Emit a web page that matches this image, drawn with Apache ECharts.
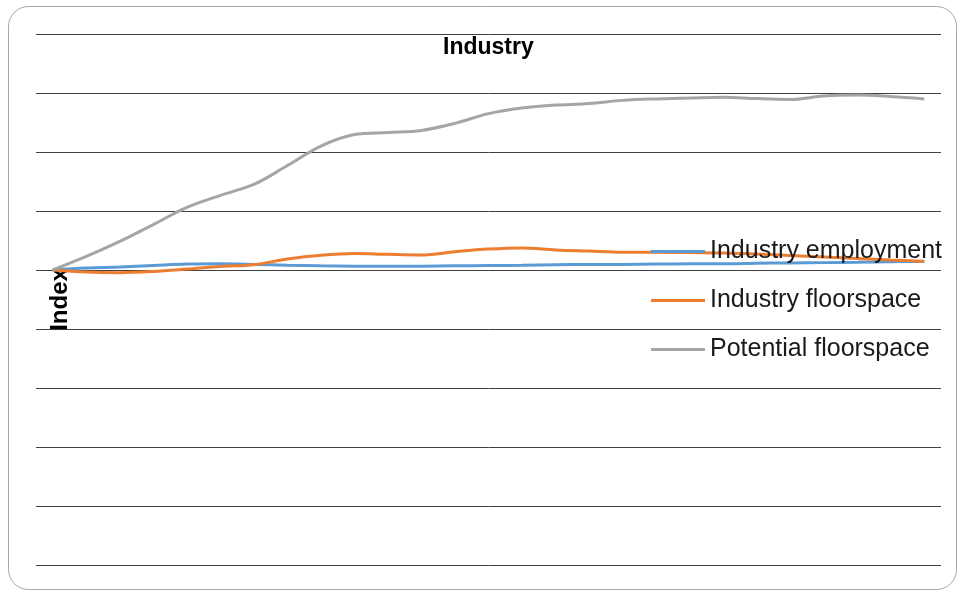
<!DOCTYPE html>
<html>
<head>
<meta charset="utf-8">
<script src="https://cdn.jsdelivr.net/npm/echarts@6/dist/echarts.min.js"></script>
<style>
html,body{margin:0;padding:0;background:#fff;}
#chart{width:960px;height:592px;}
</style>
</head>
<body>
<div id="chart"></div>
<script>
var periods = ['1','2','3','4','5','6','7','8','9','10','11','12','13','14','15','16','17','18','19','20','21','22','23','24','25','26','27'];
var industryEmployment = [100, 100.7, 101, 101.5, 102, 102.1, 101.9, 101.6, 101.4, 101.3, 101.3, 101.3, 101.4, 101.5, 101.6, 101.8, 101.9, 101.9, 102, 102.1, 102.1, 102.3, 102.4, 102.5, 102.6, 102.8, 102.9];
var industryFloorspace = [100, 99.3, 99.1, 99.5, 100.3, 101.2, 101.8, 103.7, 105, 105.6, 105.3, 105.1, 106.2, 107.1, 107.5, 106.8, 106.4, 106, 106, 105.9, 105.8, 105.4, 104.9, 104.4, 103.9, 103.4, 103];
var potentialFloorspace = [100, 104.6, 109.7, 115.4, 121.2, 125.3, 129, 135.4, 142, 145.9, 146.6, 147.3, 149.7, 153, 154.9, 155.9, 156.4, 157.5, 158, 158.3, 158.6, 158.1, 157.8, 159, 159.3, 158.8, 158];
var seriesNames = ['Industry employment', 'Industry floorspace', 'Potential floorspace'];

var chart = echarts.init(document.getElementById('chart'), null, {renderer: 'canvas'});
var font = '"Liberation Sans", Arial, sans-serif';
function mk(name, data, color) {
  return {
    name: name, type: 'line', data: data, smooth: 0.35,
    symbol: 'none', showSymbol: false,
    lineStyle: {color: color, width: 3},
    itemStyle: {color: color}
  };
}
chart.setOption({
  animation: false,
  backgroundColor: '#fff',
  textStyle: {fontFamily: font},
  graphic: [{
    type: 'rect', silent: true, z: -1,
    shape: {x: 8.5, y: 6.5, width: 948, height: 583, r: 20},
    style: {fill: 'none', stroke: '#a6a6a6', lineWidth: 1}
  }],
  title: {
    text: 'Industry', left: 438, top: 31,
    textStyle: {fontFamily: font, fontWeight: 'bold', fontSize: 23, color: '#000'}
  },
  legend: {
    orient: 'vertical', left: 651, top: 239, padding: 0,
    icon: 'rect', itemWidth: 54, itemHeight: 3, itemGap: 24,
    textStyle: {fontFamily: font, fontSize: 25, color: '#1a1a1a', lineHeight: 25},
    data: seriesNames
  },
  grid: {left: 36, right: 19, top: 34, bottom: 27},
  xAxis: {
    type: 'category', data: periods, boundaryGap: true,
    axisLine: {show: false}, axisTick: {show: false}, axisLabel: {show: false}
  },
  yAxis: {
    type: 'value', min: 0, max: 180, interval: 20,
    name: 'Index', nameLocation: 'middle', nameGap: -36,
    nameTextStyle: {fontFamily: font, fontWeight: 'bold', fontSize: 24, color: '#000'},
    axisLine: {show: false}, axisTick: {show: false}, axisLabel: {show: false},
    splitLine: {show: true, lineStyle: {color: '#404040', width: 1}}
  },
  series: [
    mk(seriesNames[0], industryEmployment, '#5B9BD5'),
    mk(seriesNames[1], industryFloorspace, '#ED7D31'),
    mk(seriesNames[2], potentialFloorspace, '#A5A5A5')
  ]
});
</script>
</body>
</html>
